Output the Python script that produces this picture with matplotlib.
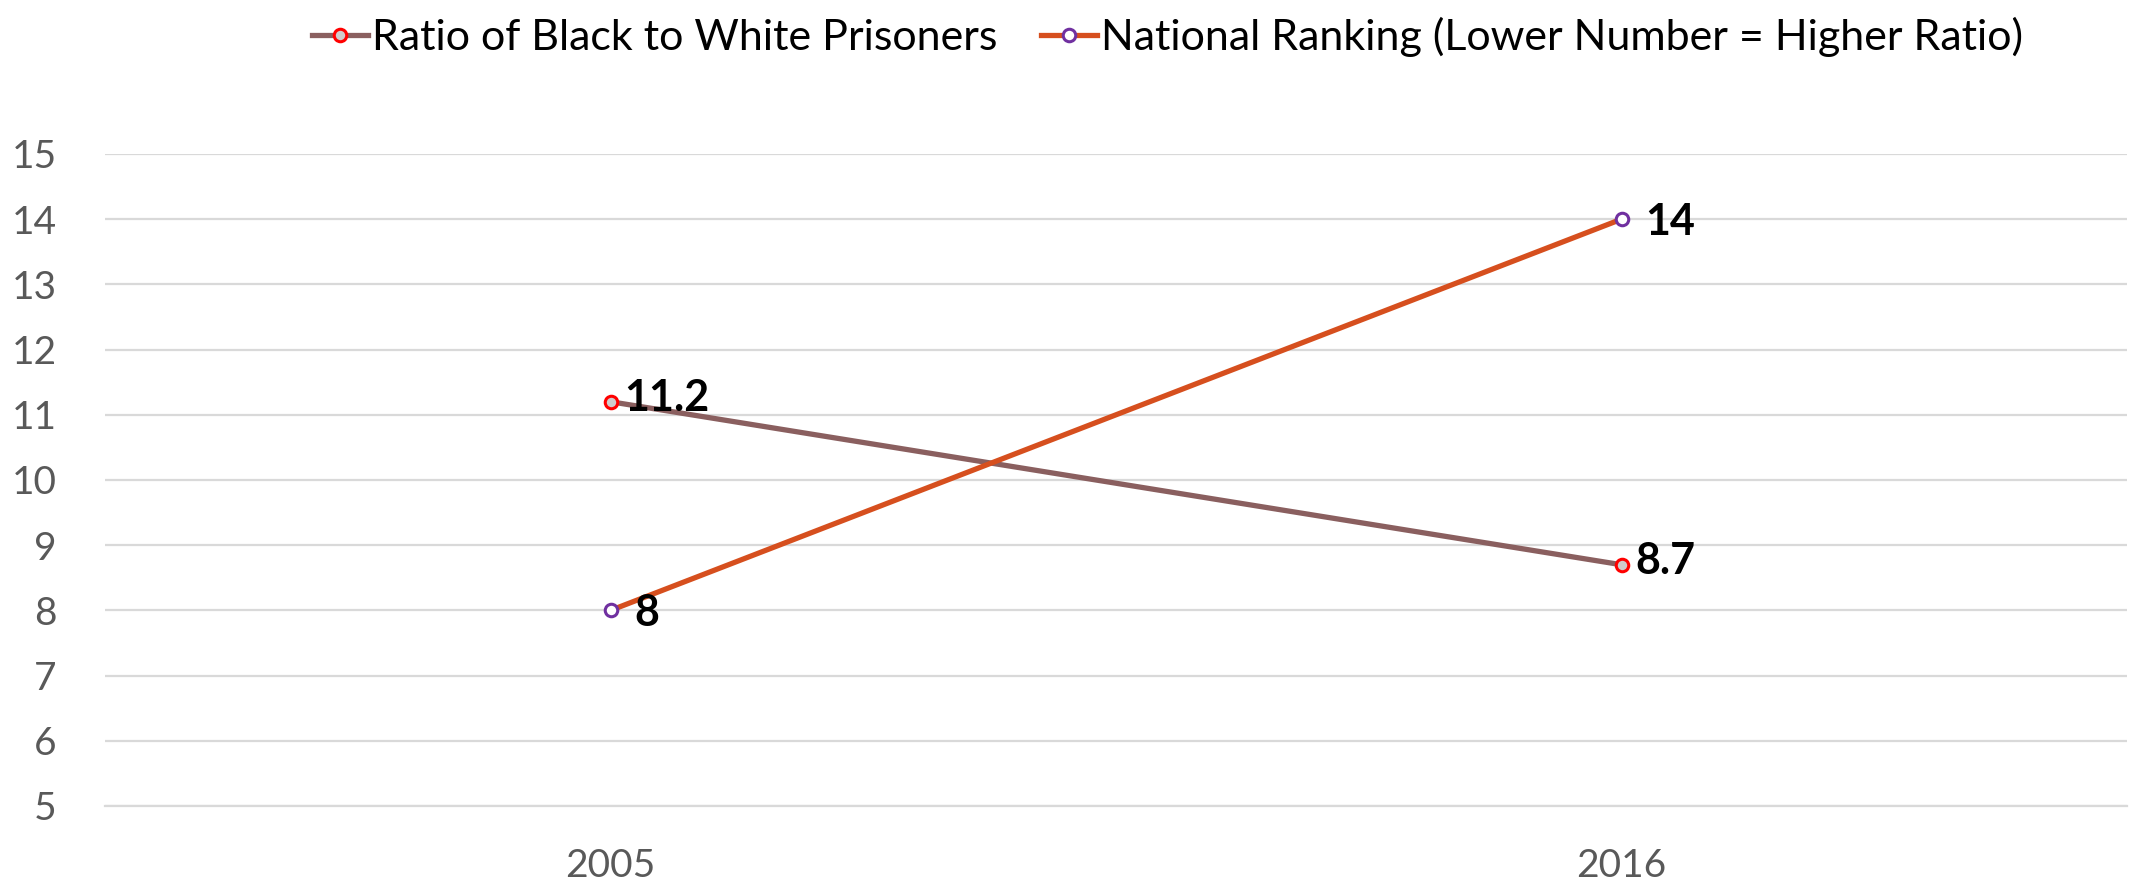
import matplotlib.pyplot as plt
import numpy as np

years = ['2005', '2016']
ratio = [11.2, 8.7]
ranking = [8, 14]
ratio_name = 'Ratio of Black to White Prisoners'
ranking_name = 'National Ranking (Lower Number = Higher Ratio)'

plt.rcParams['font.family'] = ['Lato', 'DejaVu Sans']

fig = plt.figure(figsize=(21.36, 8.9), dpi=100)
ax = fig.add_axes([0.0492, 0.0944, 0.9466, 0.7326])

x = np.arange(len(years))
ax.plot(x, ratio, c='#8a5f5f', lw=3.8, marker='o', ms=9, mfc='#d0cccc',
        mec='#ff0000', mew=2.2, label=ratio_name, zorder=3)
ax.plot(x, ranking, c='#d64f1e', lw=3.8, marker='o', ms=9, mfc='#ffffff',
        mec='#7030a0', mew=2.2, label=ranking_name, zorder=3)

# data labels to the right of each point
for xi, v in zip(x, ratio):
    ax.annotate(f'{v:g}', (xi, v), xytext=(10, 3), textcoords='offset points',
                ha='left', va='center', fontsize=31, fontweight='bold')
for xi, v in zip(x, ranking):
    ax.annotate(f'{v:g}', (xi, v), xytext=(17, -2), textcoords='offset points',
                ha='left', va='center', fontsize=31, fontweight='bold')

ax.set_xlim(-0.5, 1.5)
ax.set_ylim(5, 15)
ax.set_yticks(range(5, 16))
ax.set_xticks(x)
ax.set_xticklabels(years)
ax.tick_params(length=0, labelsize=28, labelcolor='#595959')
ax.tick_params(axis='y', pad=35)
ax.tick_params(axis='x', pad=30)
ax.grid(axis='y', color='#d9d9d9', lw=1.6)
ax.set_axisbelow(True)
for s in ['top', 'right', 'left']:
    ax.spines[s].set_visible(False)
ax.spines['bottom'].set_color('#d9d9d9')
ax.spines['bottom'].set_linewidth(1.6)

fig.legend(loc='upper center', bbox_to_anchor=(0.5466, 1.025), ncol=2, frameon=False,
           fontsize=31, handlelength=1.3, handletextpad=0.1, columnspacing=1.0)

fig.savefig('out.png', dpi=100)
